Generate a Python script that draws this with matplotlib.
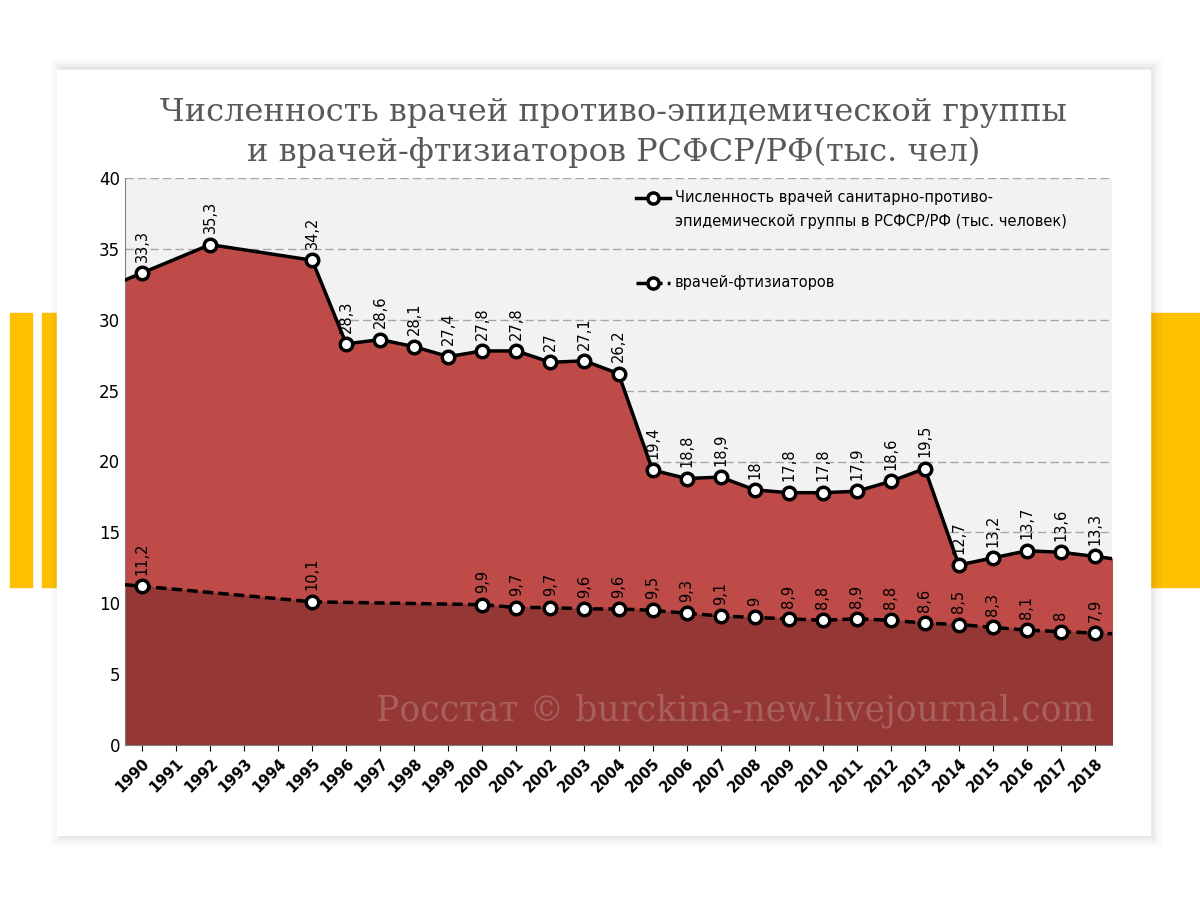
import matplotlib
matplotlib.use("Agg")
import matplotlib.pyplot as plt
import numpy as np
from matplotlib.patches import Rectangle

years = [str(y) for y in range(1990, 2019)]
san_years = [1990, 1992, 1995, 1996, 1997, 1998, 1999, 2000, 2001, 2002, 2003, 2004, 2005, 2006,
             2007, 2008, 2009, 2010, 2011, 2012, 2013, 2014, 2015, 2016, 2017, 2018]
san_vals = [33.3, 35.3, 34.2, 28.3, 28.6, 28.1, 27.4, 27.8, 27.8, 27, 27.1, 26.2, 19.4, 18.8,
            18.9, 18, 17.8, 17.8, 17.9, 18.6, 19.5, 12.7, 13.2, 13.7, 13.6, 13.3]
ft_years = [1990, 1995, 2000, 2001, 2002, 2003, 2004, 2005, 2006, 2007, 2008, 2009, 2010,
            2011, 2012, 2013, 2014, 2015, 2016, 2017, 2018]
ft_vals = [11.2, 10.1, 9.9, 9.7, 9.7, 9.6, 9.6, 9.5, 9.3, 9.1, 9, 8.9, 8.8, 8.9, 8.8, 8.6,
           8.5, 8.3, 8.1, 8, 7.9]

def lbl(v):
    return str(v).replace('.', ',') if v != int(v) else str(int(v))

def extend(xs, ys):
    xs = list(xs); ys = list(ys)
    x0 = -0.5; y0 = ys[0] + (ys[1]-ys[0])/(xs[1]-xs[0])*(x0-xs[0])
    x1 = len(years)-0.5; y1 = ys[-1] + (ys[-1]-ys[-2])/(xs[-1]-xs[-2])*(x1-xs[-1])
    return [x0]+xs+[x1], [y0]+ys+[y1]

sx = [y-1990 for y in san_years]
fx = [y-1990 for y in ft_years]

fig = plt.figure(figsize=(12, 9), dpi=100)
fig.patch.set_facecolor('white')
yel = '#FFC000'
for (x, w) in [(10, 22), (42, 15), (1150, 50)]:
    fig.patches.append(Rectangle((x/1200, 1-587/900), w/1200, 274/900, transform=fig.transFigure,
                                 color=yel, zorder=0))
for i, a in enumerate([0.04, 0.03, 0.02, 0.015]):
    d = (i+1)*3
    fig.patches.append(Rectangle(((57-d+6)/1200, 1-(835+d)/900), (1093+2*d-6)/1200, (765+2*d)/900,
                                 transform=fig.transFigure, color='black', alpha=a, zorder=0.5, lw=0))
fig.patches.append(Rectangle((57/1200, 1-835/900), 1093/1200, 765/900, transform=fig.transFigure,
                             color='white', zorder=1))

fig.text(0.511, 1-113/900, 'Численность врачей противо-эпидемической группы', ha='center', va='center',
         fontsize=23, family='DejaVu Serif', color='#595959')
fig.text(0.511, 1-152/900, 'и врачей-фтизиаторов РСФСР/РФ(тыс. чел)', ha='center', va='center',
         fontsize=23, family='DejaVu Serif', color='#595959')

ax = fig.add_axes([125/1200, 1-745/900, 987/1200, 567/900])
ax.set_zorder(2)
ax.set_facecolor('#F2F2F2')
ax.set_xlim(-0.5, len(years)-0.5)
ax.set_ylim(0, 40)
ax.set_yticks(range(0, 41, 5))
ax.yaxis.grid(True, color='#A6A6A6', ls=(0, (6, 3)), lw=1)
ax.set_axisbelow(True)

ex, ey = extend(sx, san_vals)
fx2, fy2 = extend(fx, ft_vals)
ax.fill_between(ex, 0, ey, color='#BE4B48', zorder=2)
ax.fill_between(fx2, 0, fy2, color='#953735', zorder=2.5)
ax.plot(ex, ey, color='black', lw=2.5, zorder=3)
ax.plot(sx, san_vals, 'o', ms=9, mfc='white', mec='black', mew=2.5, zorder=4)
ax.plot(fx2, fy2, color='black', lw=2.5, ls=(0, (3, 1.5)), zorder=3)
ax.plot(fx, ft_vals, 'o', ms=9, mfc='white', mec='black', mew=2.5, zorder=4)

for x, v in zip(sx, san_vals):
    ax.text(x, v+0.8, lbl(v), rotation=90, ha='center', va='bottom', fontsize=10.5, zorder=5)
for x, v in zip(fx, ft_vals):
    ax.text(x, v+0.8, lbl(v), rotation=90, ha='center', va='bottom', fontsize=10.5, zorder=5)

ax.text(28.0, 2.4, 'Росстат © burckina-new.livejournal.com', ha='right', va='center', fontsize=25,
        family='DejaVu Serif', color='#A8605C', zorder=5)

# legend
ax.plot([14.5, 15.5], [38.6, 38.6], color='black', lw=2.5, zorder=6)
ax.plot([15.0], [38.6], 'o', ms=8, mfc='white', mec='black', mew=2.5, zorder=7)
ax.text(15.65, 38.6, 'Численность врачей санитарно-противо-', va='center', fontsize=10.5, zorder=6)
ax.text(15.65, 36.9, 'эпидемической группы в РСФСР/РФ (тыс. человек)', va='center', fontsize=10.5, zorder=6)
ax.plot([14.5, 15.5], [32.6, 32.6], color='black', lw=2.5, ls=(0, (3, 1.5)), zorder=6)
ax.plot([15.0], [32.6], 'o', ms=8, mfc='white', mec='black', mew=2.5, zorder=7)
ax.text(15.65, 32.6, 'врачей-фтизиаторов', va='center', fontsize=10.5, zorder=6)

ax.set_xticks(range(len(years)))
ax.set_xticklabels(years, rotation=45, ha='right', rotation_mode='anchor', fontsize=10.5, fontweight='bold')
ax.tick_params(axis='y', labelsize=12, length=0)
ax.tick_params(axis='x', length=4)
for s in ['top', 'right']:
    ax.spines[s].set_visible(False)
ax.spines['left'].set_color('#7F7F7F')
ax.spines['bottom'].set_color('#7F7F7F')

fig.savefig('out.png', dpi=100)
